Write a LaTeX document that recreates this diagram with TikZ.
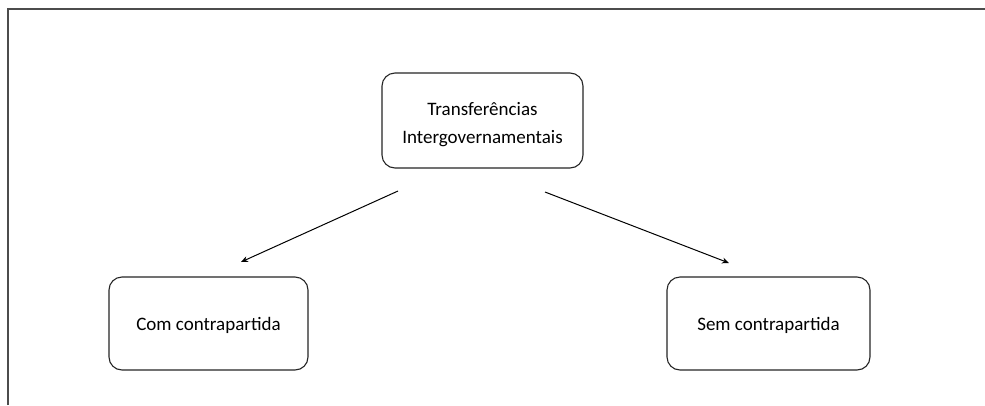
\documentclass[tikz,border=0pt]{standalone}
\usepackage{fontspec}
\setmainfont{Carlito}
\usetikzlibrary{arrows.meta}
\begin{document}
\begin{tikzpicture}[x=1pt,y=-1pt,
  txt/.style={font=\fontsize{19}{28}\selectfont,align=center,inner sep=0pt},
  box/.style={draw=black!85,line width=1.1pt,rounded corners=13pt,inner sep=0pt},
  conn/.style={draw=black,line width=1pt,-{Stealth[length=7pt,width=6pt]}},
  frame/.style={draw=black!70,line width=2pt}]
\useasboundingbox (0,0) rectangle (985,405);
\fill[white] (0,0) rectangle (985,405);
\draw[frame] (8,405) -- (8,9) -- (985,9);
\node[box,minimum width=201pt,minimum height=95pt,
  label={[txt,yshift=-4pt]center:Transferências\\Intergovernamentais}] (top) at (482.5,120.5) {};
\node[box,minimum width=199pt,minimum height=93pt,
  label={[txt,yshift=-2pt]center:Com contrapartida}] (left) at (208.5,323.5) {};
\node[box,minimum width=203pt,minimum height=93pt,
  label={[txt,yshift=-2pt]center:Sem contrapartida}] (right) at (768.5,323.5) {};
\coordinate (s1) at (398,191);
\coordinate (e1) at (241,262);
\coordinate (s2) at (545,192);
\coordinate (e2) at (729,263);
\draw[conn] (s1) -- (e1);
\draw[conn] (s2) -- (e2);
\end{tikzpicture}
\end{document}
